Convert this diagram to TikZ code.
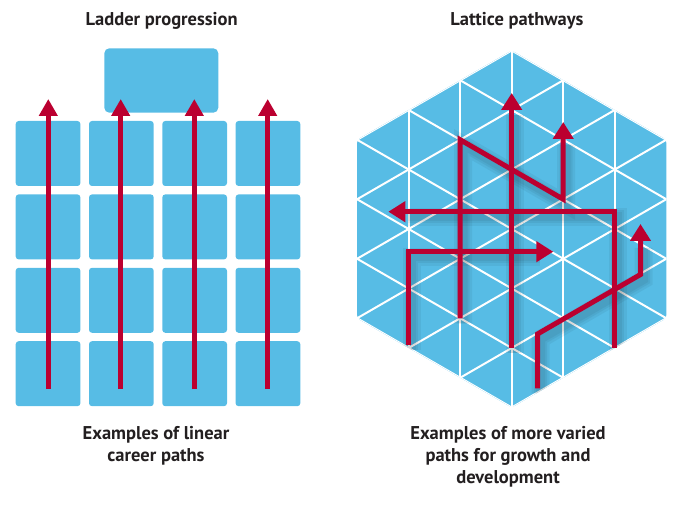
\documentclass[tikz,border=0pt]{standalone}
\usepackage{fontspec}
\setmainfont{PT Sans}
\usetikzlibrary{arrows.meta}
\definecolor{lblue}{HTML}{57BCE5}
\definecolor{pred}{HTML}{BB0030}
\definecolor{txt}{HTML}{231F20}
\begin{document}
\begin{tikzpicture}[x=1pt,y=-1pt,
  cell/.style={fill=lblue, rounded corners=3pt},
  gridline/.style={white, line width=2pt},
  redpath/.style={pred, line width=5pt, -{Triangle[width=20pt,length=17pt]}},
  shade/.style={black, opacity=0.05},
  lbl/.style={text=txt, font=\fontsize{18.5}{22}\selectfont\bfseries, align=center, inner sep=0pt, anchor=base}]
\useasboundingbox (0,0) rectangle (684,510);

% ---------- Ladder ----------
\fill[lblue, rounded corners=5pt] (104.3,48.3) rectangle (218.3,112.7);
\foreach \i in {0,...,3}
  \foreach \j in {0,...,3}
    \fill[cell] (15.7+\i*73.3,121+\j*73.4) rectangle +(64.7,65);
\foreach \x [count=\n] in {48.3,120.7,194.3,267.7} {
  \coordinate (ls\n) at (\x,389);
  \coordinate (le\n) at (\x,99);
  \draw[redpath, -{Triangle[width=18pt,length=17pt]}] (ls\n) -- (le\n);
}

% ---------- Lattice ----------
\def\cx{511.7}\def\cy{229}\def\s{59.5}\def\h{51.53}
\def\hexpath{(\cx,\cy-3*\s) -- (\cx+3*\h,\cy-1.5*\s) -- (\cx+3*\h,\cy+1.5*\s) -- (\cx,\cy+3*\s) -- (\cx-3*\h,\cy+1.5*\s) -- (\cx-3*\h,\cy-1.5*\s) -- cycle}
\fill[lblue, rounded corners=3pt] \hexpath;
\begin{scope}
  \clip \hexpath;
  \foreach \k in {-2,...,2}
    \draw[gridline] (\cx+\k*\h,0) -- (\cx+\k*\h,460);
  \foreach \n in {-6,...,6} {
    \draw[gridline] (\cx-4*\h,\cy+\n*\s-2*\s) -- (\cx+4*\h,\cy+\n*\s+2*\s);
    \draw[gridline] (\cx-4*\h,\cy+\n*\s+2*\s) -- (\cx+4*\h,\cy+\n*\s-2*\s);
  }
  % soft shadows of the red paths
  \begin{scope}[shift={(3,5)}]
    \foreach \w in {18,13,9} {
      \draw[shade, line width=\w pt] (\cx,\cy+2*\s) -- (\cx,\cy-2*\s);
      \draw[shade, line width=\w pt] (\cx-\h,\cy+1.5*\s) -- (\cx-\h,\cy-1.5*\s) -- (\cx+\h,\cy-0.5*\s) -- (\cx+\h,\cy-1.5*\s);
      \draw[shade, line width=\w pt] (\cx+2*\h,\cy+2*\s) -- (\cx+2*\h,211.7) -- (405,211.7);
      \draw[shade, line width=\w pt] (\cx-2*\h,345) -- (\cx-2*\h,251.7) -- (537,251.7);
      \draw[shade, line width=\w pt] (537.5,388.3) -- (537.5,334) -- (640.5,274.5) -- (640.5,243);
    }
  \end{scope}
\end{scope}

% red paths
\coordinate (a0) at (\cx,\cy+2*\s);
\coordinate (a1) at (\cx,93);
\draw[redpath] (a0) -- (a1);

\coordinate (b0) at (\cx-\h,\cy+1.5*\s);
\coordinate (b1) at (\cx-\h,\cy-1.5*\s);
\coordinate (b2) at (\cx+\h,\cy-0.5*\s);
\coordinate (b3) at (\cx+\h,122);
\draw[redpath] (b0) -- (b1) -- (b2) -- (b3);

\coordinate (c0) at (\cx+2*\h,\cy+2*\s);
\coordinate (c1) at (\cx+2*\h,211.7);
\coordinate (c2) at (388.3,211.7);
\draw[redpath] (c0) -- (c1) -- (c2);

\coordinate (d0) at (\cx-2*\h,345);
\coordinate (d1) at (\cx-2*\h,251.7);
\coordinate (d2) at (553.3,251.7);
\draw[redpath] (d0) -- (d1) -- (d2);

\coordinate (e0) at (537.5,388.3);
\coordinate (e1) at (537.5,334);
\coordinate (e2) at (640.5,274.5);
\coordinate (e3) at (640.5,224);
\draw[redpath] (e0) -- (e1) -- (e2) -- (e3);

% ---------- Text ----------
\node[lbl] (t1) at (161.7,25.7) {Ladder progression};
\node[lbl] (t2) at (517,25.7) {Lattice pathways};
\node[lbl] (b1) at (156,461.7) {Examples of linear\\career paths};
\node[lbl] (b2) at (508,483.5) {Examples of more varied\\paths for growth and\\development};
\end{tikzpicture}
\end{document}
